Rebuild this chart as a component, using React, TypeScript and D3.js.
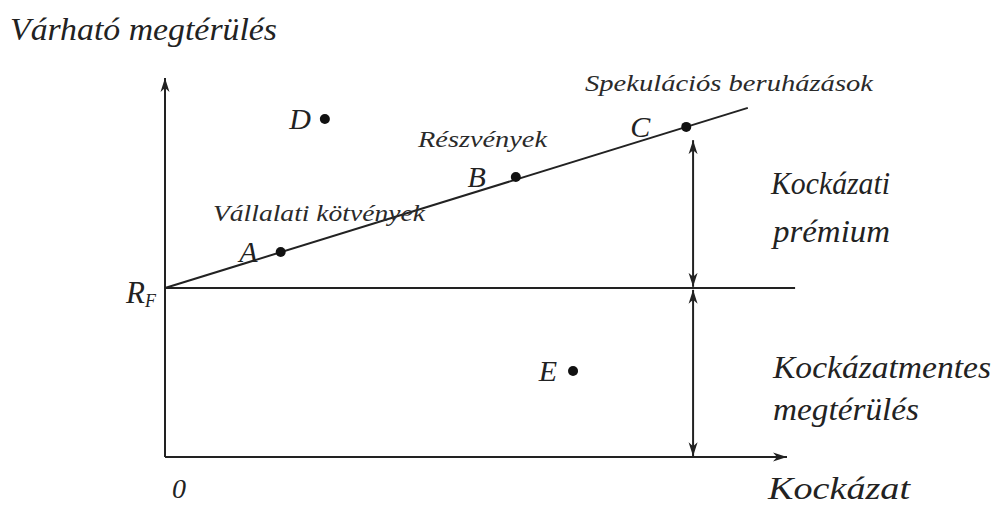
import * as React from "react";
import * as d3 from "d3";

// points on the chart (risk, expected return)
const pointNames = ["A", "B", "C", "D", "E"];
const pointRisk = [18.6, 56.4, 83.8, 25.7, 65.6];
const pointReturn = [54.1, 73.9, 87.1, 89.2, 22.7];

const riskFree = 44.6;
const smlEndRisk = 93.7;
const rfLineEnd = 101.3;
const premiumRisk = 84.9;

const categoryNames = ["Vállalati kötvények", "Részvények", "Spekulációs beruházások"];

const W = 997;
const H = 506;
const ink = "#222";
const serif = '"Liberation Serif"';

function drawChart(svgEl: SVGSVGElement) {
  const svg = d3.select(svgEl);
  svg.selectAll("*").remove();

  const x = d3.scaleLinear().domain([0, 100]).range([165, 787]);
  const y = d3.scaleLinear().domain([0, 100]).range([457, 78]);

  const slope = (pointReturn[2] - riskFree) / pointRisk[2];

  const defs = svg.append("defs");
  defs.append("marker")
    .attr("id", "head")
    .attr("viewBox", "-14 -6 16 12")
    .attr("refX", 0)
    .attr("refY", 0)
    .attr("markerWidth", 16)
    .attr("markerHeight", 12)
    .attr("markerUnits", "userSpaceOnUse")
    .attr("orient", "auto-start-reverse")
    .append("path")
    .attr("d", "M0,0 L-14,-4.5 L-10,0 L-14,4.5 Z")
    .attr("fill", ink);

  const g = svg.append("g");

  const label = (t: string, tx: number, ty: number, size: number) =>
    g.append("text")
      .attr("x", tx).attr("y", ty)
      .style("font-family", serif)
      .style("font-style", "italic")
      .style("font-size", `${size}px`)
      .attr("fill", ink)
      .text(t);

  // axes
  g.append("line")
    .attr("x1", x(0)).attr("y1", y(0))
    .attr("x2", x(0)).attr("y2", y(100))
    .attr("stroke", ink).attr("stroke-width", 2)
    .attr("marker-end", "url(#head)");
  g.append("line")
    .attr("x1", x(0)).attr("y1", y(0))
    .attr("x2", x(100)).attr("y2", y(0))
    .attr("stroke", ink).attr("stroke-width", 2)
    .attr("marker-end", "url(#head)");

  // risk free line
  g.append("line")
    .attr("x1", x(0)).attr("y1", y(riskFree))
    .attr("x2", x(rfLineEnd)).attr("y2", y(riskFree))
    .attr("stroke", ink).attr("stroke-width", 2);

  // security market line
  g.append("line")
    .attr("x1", x(0)).attr("y1", y(riskFree))
    .attr("x2", x(smlEndRisk)).attr("y2", y(riskFree + slope * smlEndRisk))
    .attr("stroke", ink).attr("stroke-width", 2);

  // double arrows: premium and risk-free return
  const topOfPremium = riskFree + slope * pointRisk[2] - 3.5;
  [[topOfPremium, riskFree + 0.3], [riskFree - 0.5, 0.2]].forEach(([a, b]) => {
    g.append("line")
      .attr("x1", x(premiumRisk)).attr("y1", y(a))
      .attr("x2", x(premiumRisk)).attr("y2", y(b))
      .attr("stroke", ink).attr("stroke-width", 2)
      .attr("marker-start", "url(#head)")
      .attr("marker-end", "url(#head)");
  });

  // points
  g.selectAll("circle.pt")
    .data(pointNames)
    .join("circle")
    .attr("class", "pt")
    .attr("cx", (_d, i) => x(pointRisk[i]))
    .attr("cy", (_d, i) => y(pointReturn[i]))
    .attr("r", 5)
    .attr("fill", "#111");

  const letterDx = [-23, -30, -36, -14, -16];
  pointNames.forEach((d, i) => {
    label(d, x(pointRisk[i]) + letterDx[i], y(pointReturn[i]) + 10, 30)
      .attr("text-anchor", "end");
  });

  // category labels next to A, B, C
  const catPos = [[213, 221, 212], [418, 147, 129], [585, 91, 288]];
  categoryNames.forEach((name, i) => {
    label(name, catPos[i][0], catPos[i][1], 23)
      .attr("textLength", catPos[i][2])
      .attr("lengthAdjust", "spacingAndGlyphs")
      .attr("fill", "#2a2a2a");
  });

  // big labels
  const bigLabels: [string, number, number, number][] = [
    ["Várható megtérülés", 10, 40, 267],
    ["Kockázat", 768, 499, 142],
    ["Kockázati", 771, 194, 119],
    ["prémium", 773, 242, 117],
    ["Kockázatmentes", 773, 378, 218],
    ["megtérülés", 773, 420, 146],
  ];
  bigLabels.forEach(([t, tx, ty, tl]) => {
    label(t, tx, ty, 31)
      .attr("textLength", tl)
      .attr("lengthAdjust", "spacingAndGlyphs");
  });

  // R_F and origin
  const rf = label("", 126, y(riskFree) + 15, 31);
  rf.append("tspan").text("R");
  rf.append("tspan").style("font-size", "18px").attr("dy", 4).text("F");

  label("0", 172, 498, 28);
}

const App = () => {
  const svgRef = React.useRef<SVGSVGElement>(null);
  React.useEffect(() => {
    if (svgRef.current) drawChart(svgRef.current);
  }, []);

  return (
    <svg
      ref={svgRef}
      width={W}
      height={H}
      style={{ position: "absolute", left: 0, top: 0, background: "#fff" }}
    />
  );
};

export default App;
